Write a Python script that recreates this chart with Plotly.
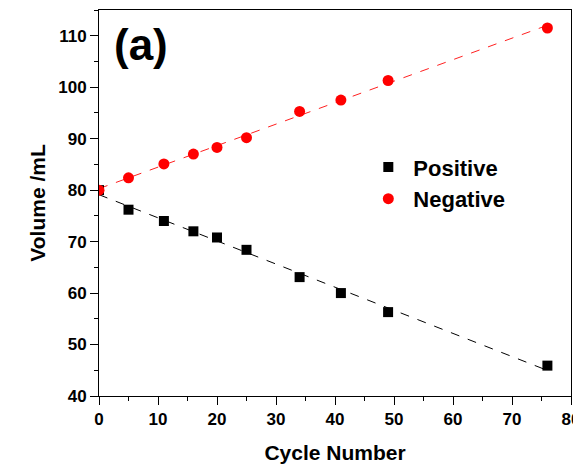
import numpy as np
import plotly.graph_objects as go

cycles = [0, 5, 11, 16, 20, 25, 34, 41, 49, 76]
positive = [80.0, 76.2, 74.0, 72.0, 70.8, 68.4, 63.1, 60.0, 56.3, 45.9]
negative = [80.0, 82.4, 85.1, 87.0, 88.3, 90.2, 95.3, 97.5, 101.3, 111.5]

xfit = np.array([0, 76])
pp = np.polyfit(cycles, positive, 1)
pn = np.polyfit(cycles, negative, 1)

font = "Liberation Sans, Arial, sans-serif"
fig = go.Figure()
fig.add_trace(go.Scatter(x=xfit, y=np.polyval(pp, xfit), mode="lines",
                         line=dict(color="black", dash="dash", width=1), showlegend=False, hoverinfo="skip"))
fig.add_trace(go.Scatter(x=xfit, y=np.polyval(pn, xfit), mode="lines",
                         line=dict(color="#ff2020", dash="dash", width=1), showlegend=False, hoverinfo="skip"))
fig.add_trace(go.Scatter(x=cycles, y=positive, mode="markers", name="Positive",
                         marker=dict(symbol="square", color="black", size=10)))
fig.add_trace(go.Scatter(x=cycles, y=negative, mode="markers", name="Negative",
                         marker=dict(symbol="circle", color="red", size=11)))

axis_common = dict(showline=True, linecolor="black", linewidth=1, mirror=True, automargin=False,
                   ticks="outside", ticklen=8, tickcolor="black", showgrid=False, zeroline=False,
                   tickfont=dict(family=font, size=17, color="black", weight="bold"))
fig.update_xaxes(range=[0, 80], dtick=10,
                 minor=dict(ticks="outside", ticklen=4, dtick=5, tickcolor="black"),
                 title=dict(text="Cycle Number", font=dict(family=font, size=21, color="black", weight="bold"), standoff=16),
                 **axis_common)
fig.update_yaxes(range=[40, 115], dtick=10, tick0=40,
                 minor=dict(ticks="outside", ticklen=4, dtick=5, tickcolor="black"),
                 title=dict(text="Volume /mL", font=dict(family=font, size=21, color="black", weight="bold"), standoff=6),
                 **axis_common)
fig.add_annotation(text="(a)", x=0.028, y=0.98, xref="paper", yref="paper", xanchor="left", yanchor="top",
                   showarrow=False, font=dict(family=font, size=44, color="black", weight="bold"))
fig.update_layout(width=581, height=458, margin=dict(l=91, r=18, t=2, b=70),
                  plot_bgcolor="white", paper_bgcolor="white",
                  legend=dict(x=0.56, y=0.647, xanchor="left", yanchor="top", bgcolor="rgba(0,0,0,0)",
                              font=dict(family=font, size=22, color="black", weight="bold"),
                              tracegroupgap=0, itemwidth=40))
fig.write_html("out.html")
